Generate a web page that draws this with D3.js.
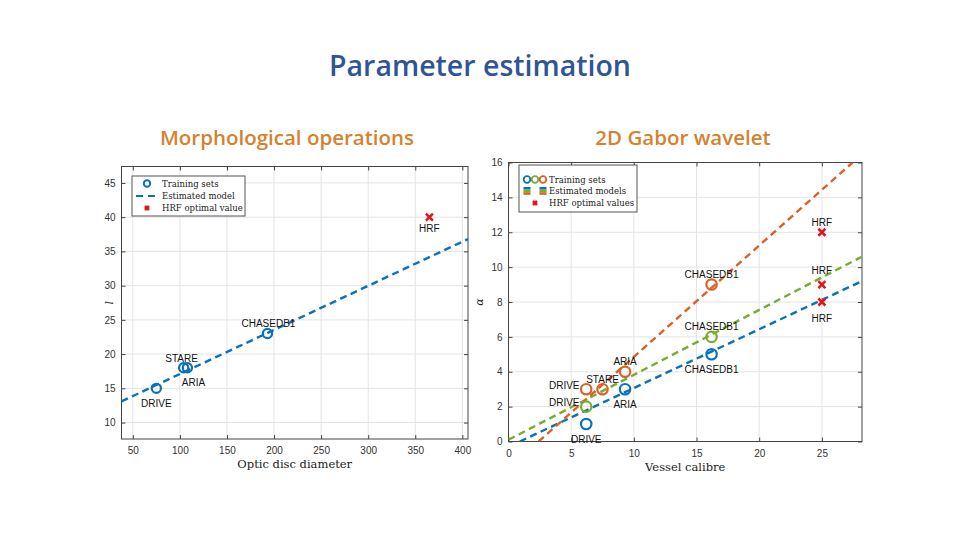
<!DOCTYPE html>
<html>
<head>
<meta charset="utf-8">
<script src="https://cdn.jsdelivr.net/npm/d3@7"></script>
<style>
  body { margin: 0; background: #fff; }
  svg text { font-family: "Liberation Sans", Arial, sans-serif; }
  .ttl { font-family: "Open Sans", "Noto Sans", sans-serif; }
  .serif { font-family: "DejaVu Serif", "Liberation Serif", serif; }
</style>
</head>
<body>
<svg id="chart" width="960" height="540"></svg>
<script>
// ---- data: left panel (morphological operations) ----
const morphSets = ["DRIVE", "STARE", "ARIA", "CHASEDB1"];
const morphDiameter = [75, 104, 108, 193];
const morphL = [15, 18, 18, 23];
const morphHrf = { x: 365, y: 40 };
const morphModelX = [38, 406];
const morphModelY = [13.1, 36.8];
const morphXTicks = [50, 100, 150, 200, 250, 300, 350, 400];
const morphYTicks = [10, 15, 20, 25, 30, 35, 40, 45];

// ---- data: right panel (2D Gabor wavelet), three series ----
const gaborSeries = ["blue", "green", "orange"];
const gaborSets = {
  blue:   ["DRIVE", "ARIA", "CHASEDB1"],
  green:  ["DRIVE", "CHASEDB1"],
  orange: ["DRIVE", "STARE", "ARIA", "CHASEDB1"]
};
const gaborCalibre = {
  blue:   [6.2, 9.3, 16.2],
  green:  [6.2, 16.2],
  orange: [6.2, 7.5, 9.3, 16.2]
};
const gaborAlpha = {
  blue:   [1, 3, 5],
  green:  [2, 6],
  orange: [3, 3, 4, 9]
};
const gaborHrfX = 25;
const gaborHrfY = { blue: 8, green: 9, orange: 12 };
const gaborModelX = { blue: [0.9, 28.2], green: [0, 28.2], orange: [2.4, 27.45] };
const gaborModelY = { blue: [0, 9.2], green: [0.1, 10.6], orange: [0, 16] };
const gaborXTicks = [0, 5, 10, 15, 20, 25];
const gaborYTicks = [0, 2, 4, 6, 8, 10, 12, 14, 16];

// ---- styling ----
const colors = { blue: "#0a72b8", green: "#77ac30", orange: "#d9622b" };
const hrfColor = "#e3141b";
const gridColor = "#e4e4e4";
const axisColor = "#444";

// label placement (dx, dy from point centre, in px)
const morphLabelOff = { DRIVE: [0, 15], STARE: [-2, -9], ARIA: [6, 15], CHASEDB1: [1, -10] };
const gaborLabelOff = {
  blue:   { DRIVE: [0, 15], ARIA: [0, 15], CHASEDB1: [0, 15] },
  green:  { DRIVE: [-22, -4], CHASEDB1: [0, -10] },
  orange: { DRIVE: [-22, -4], STARE: [0, -10], ARIA: [0, -10], CHASEDB1: [0, -10] }
};
const gaborHrfLabelOff = { blue: [0, 16], green: [0, -14], orange: [0, -10] };

const svg = d3.select("#chart");

// titles
svg.append("text").attr("class", "ttl")
  .attr("x", 480).attr("y", 76).attr("text-anchor", "middle")
  .attr("font-size", 28.5).attr("font-weight", 600).attr("fill", "#2f5597")
  .text("Parameter estimation");
svg.append("text").attr("class", "ttl")
  .attr("x", 287).attr("y", 145).attr("text-anchor", "middle")
  .attr("font-size", 20.5).attr("font-weight", 600).attr("fill", "#d4822e")
  .text("Morphological operations");
svg.append("text").attr("class", "ttl")
  .attr("x", 683).attr("y", 145).attr("text-anchor", "middle")
  .attr("font-size", 20.5).attr("font-weight", 600).attr("fill", "#d4822e")
  .text("2D Gabor wavelet");

function drawFrame(g, x, y, xTicks, yTicks, xLabel, yLabel, yLabX) {
  const [x0, x1] = x.range();
  const [y0, y1] = y.range();
  // grid
  g.selectAll("line.gx").data(xTicks).join("line").attr("class", "gx")
    .attr("x1", d => x(d)).attr("x2", d => x(d)).attr("y1", y1).attr("y2", y0)
    .attr("stroke", gridColor);
  g.selectAll("line.gy").data(yTicks).join("line").attr("class", "gy")
    .attr("x1", x0).attr("x2", x1).attr("y1", d => y(d)).attr("y2", d => y(d))
    .attr("stroke", gridColor);
  // axes
  g.append("g").attr("transform", `translate(0,${y0})`)
    .call(d3.axisBottom(x).tickValues(xTicks).tickSize(-4).tickPadding(8));
  g.append("g").attr("transform", `translate(${x0},0)`)
    .call(d3.axisLeft(y).tickValues(yTicks).tickSize(-4).tickPadding(6));
  // mirror ticks
  g.append("g").attr("transform", `translate(0,${y1})`)
    .call(d3.axisTop(x).tickValues(xTicks).tickSize(-4).tickFormat(""));
  g.append("g").attr("transform", `translate(${x1},0)`)
    .call(d3.axisRight(y).tickValues(yTicks).tickSize(-4).tickFormat(""));
  g.selectAll(".domain").remove();
  g.selectAll(".tick line").attr("stroke", axisColor);
  g.selectAll(".tick text").attr("font-size", 10).attr("fill", "#333");
  g.append("rect").attr("x", x0).attr("y", y1).attr("width", x1 - x0).attr("height", y0 - y1)
    .attr("fill", "none").attr("stroke", axisColor).attr("stroke-width", 1);
  g.append("text").attr("class", "serif")
    .attr("x", (x0 + x1) / 2).attr("y", y0 + 29).attr("text-anchor", "middle")
    .attr("font-size", 11.5).attr("fill", "#222").text(xLabel);
  g.append("text").attr("class", "serif")
    .attr("transform", `translate(${yLabX},${(y0 + y1) / 2}) rotate(-90)`)
    .attr("text-anchor", "middle").attr("font-size", 11).attr("font-style", "italic")
    .attr("fill", "#222").text(yLabel);
}

function cross(g, cx, cy, r, color) {
  g.append("path")
    .attr("d", `M${cx - r},${cy - r}L${cx + r},${cy + r}M${cx - r},${cy + r}L${cx + r},${cy - r}`)
    .attr("stroke", color).attr("stroke-width", 2.5);
}

function label(g, px, py, off, text) {
  g.append("text").attr("x", px + off[0]).attr("y", py + off[1] + 3.5)
    .attr("text-anchor", "middle").attr("font-size", 10).attr("fill", "#111").text(text);
}

// ---------- left panel ----------
{
  const g = svg.append("g");
  const x = d3.scaleLinear().domain([38, 406]).range([121.5, 468]);
  const y = d3.scaleLinear().domain([7.6, 47.4]).range([439, 166.5]);
  drawFrame(g, x, y, morphXTicks, morphYTicks, "Optic disc diameter", "l", 113);

  const line = d3.line().x(d => x(d[0])).y(d => y(d[1]));
  g.append("path").datum(d3.zip(morphModelX, morphModelY)).attr("d", line)
    .attr("fill", "none").attr("stroke", colors.blue).attr("stroke-width", 2.4)
    .attr("stroke-dasharray", "7,4.5");

  morphSets.forEach((s, i) => {
    const px = x(morphDiameter[i]), py = y(morphL[i]);
    g.append("circle").attr("cx", px).attr("cy", py).attr("r", 4.6)
      .attr("fill", "none").attr("stroke", colors.blue).attr("stroke-width", 2.2);
    label(g, px, py, morphLabelOff[s], s);
  });
  cross(g, x(morphHrf.x), y(morphHrf.y), 3.5, hrfColor);
  label(g, x(morphHrf.x), y(morphHrf.y), [0, 11], "HRF");

  // legend
  const lg = g.append("g").attr("transform", "translate(132,176)");
  lg.append("rect").attr("width", 113).attr("height", 40).attr("fill", "#fff").attr("stroke", "#555");
  lg.append("circle").attr("cx", 15).attr("cy", 7.5).attr("r", 3.2)
    .attr("fill", "none").attr("stroke", colors.blue).attr("stroke-width", 2);
  lg.append("line").attr("x1", 4).attr("x2", 25).attr("y1", 20).attr("y2", 20)
    .attr("stroke", colors.blue).attr("stroke-width", 2.2).attr("stroke-dasharray", "7,5");
  cross(lg, 15, 32, 2, hrfColor);
  ["Training sets", "Estimated model", "HRF optimal value"].forEach((t, i) => {
    lg.append("text").attr("class", "serif").attr("x", 30).attr("y", 10.5 + i * 12)
      .attr("font-size", 8.5).attr("fill", "#222").text(t);
  });
}

// ---------- right panel ----------
{
  const g = svg.append("g");
  const x = d3.scaleLinear().domain([0, 28.2]).range([508.5, 862]);
  const y = d3.scaleLinear().domain([0, 16]).range([441.5, 162.5]);
  drawFrame(g, x, y, gaborXTicks, gaborYTicks, "Vessel calibre", "α", 483);

  g.append("clipPath").attr("id", "clipR").append("rect")
    .attr("x", 508.5).attr("y", 162.5).attr("width", 353.5).attr("height", 279);
  const line = d3.line().x(d => x(d[0])).y(d => y(d[1]));
  gaborSeries.forEach(s => {
    g.append("path").datum(d3.zip(gaborModelX[s], gaborModelY[s])).attr("d", line)
      .attr("clip-path", "url(#clipR)")
      .attr("fill", "none").attr("stroke", colors[s]).attr("stroke-width", 2.4)
      .attr("stroke-dasharray", "7,4.5");
  });
  gaborSeries.forEach(s => {
    gaborSets[s].forEach((name, i) => {
      const px = x(gaborCalibre[s][i]), py = y(gaborAlpha[s][i]);
      g.append("circle").attr("cx", px).attr("cy", py).attr("r", 5.2)
        .attr("fill", "none").attr("stroke", colors[s]).attr("stroke-width", 2.2);
      label(g, px, py, gaborLabelOff[s][name], name);
    });
    const hx = x(gaborHrfX), hy = y(gaborHrfY[s]);
    cross(g, hx, hy, 3.5, hrfColor);
    label(g, hx, hy, gaborHrfLabelOff[s], "HRF");
  });

  // legend
  const lg = g.append("g").attr("transform", "translate(519,165)");
  lg.append("rect").attr("width", 118).attr("height", 47).attr("fill", "#fff").attr("stroke", "#555");
  ["blue", "green", "orange"].forEach((s, i) => {
    lg.append("circle").attr("cx", 8 + i * 8).attr("cy", 14.5).attr("r", 3.3)
      .attr("fill", "none").attr("stroke", colors[s]).attr("stroke-width", 1.8);
  });
  [8, 24].forEach(cx => {
    ["blue", "green", "orange"].forEach((s, i) => {
      lg.append("rect").attr("x", cx - 3.5).attr("y", 22 + i * 2.6).attr("width", 7).attr("height", 2.6)
        .attr("fill", colors[s]);
    });
  });
  cross(lg, 16, 38, 2, hrfColor);
  ["Training sets", "Estimated models", "HRF optimal values"].forEach((t, i) => {
    lg.append("text").attr("class", "serif").attr("x", 30).attr("y", 17.5 + i * 11.5)
      .attr("font-size", 8.5).attr("fill", "#222").text(t);
  });
}
</script>
</body>
</html>
